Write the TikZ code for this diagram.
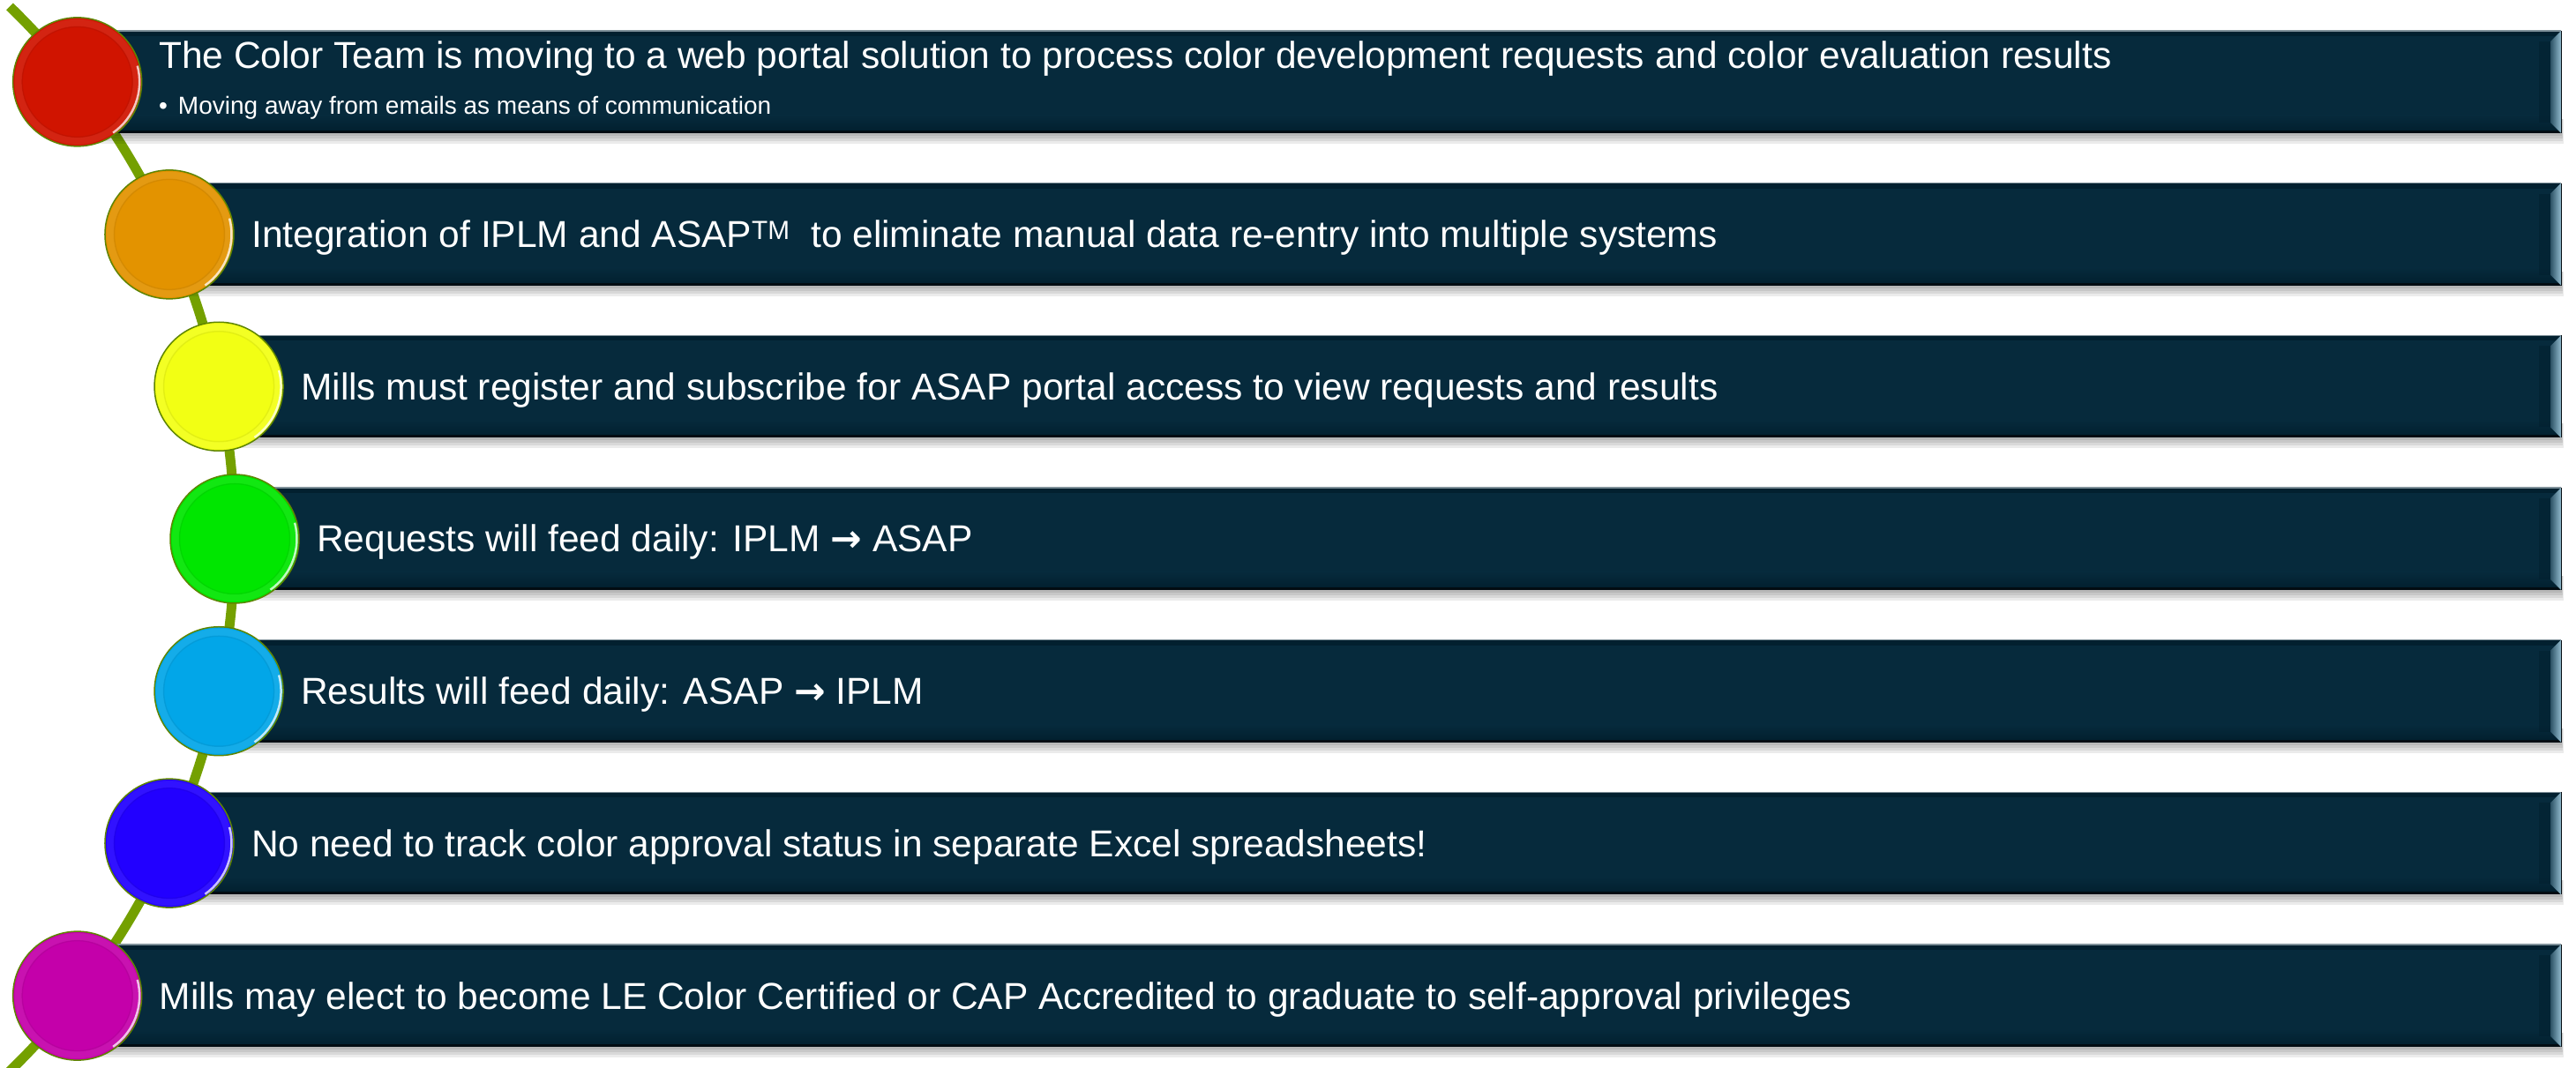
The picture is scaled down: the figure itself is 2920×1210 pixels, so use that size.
\documentclass[tikz,border=0pt]{standalone}
\usepackage{fontspec}
\setmainfont{Liberation Sans}
\newfontfamily\arrowfont{DejaVu Sans}
\usetikzlibrary{calc}
\definecolor{barfill}{HTML}{062A3C}
\definecolor{bardark}{HTML}{02202F}
\definecolor{baredge}{HTML}{7F9099}
\definecolor{pathgreen}{HTML}{74A000}
\definecolor{rimgreen}{HTML}{5E8400}
\definecolor{bevlo}{HTML}{2C5265}
\definecolor{bevhi}{HTML}{92BBCE}
\definecolor{cRed}{HTML}{D01400}
\definecolor{cOrange}{HTML}{E39300}
\definecolor{cYellow}{HTML}{F2FF14}
\definecolor{cGreen}{HTML}{00E600}
\definecolor{cBlue}{HTML}{02A6E8}
\definecolor{cIndigo}{HTML}{2200FF}
\definecolor{cMagenta}{HTML}{C400AA}
\tikzset{
  dot/.style={circle, minimum size=146pt, inner sep=0pt, draw=rimgreen, line width=1.5pt, fill=#1},
  lbl/.style={anchor=base west, inner sep=0pt, text=white, font=\fontsize{42.5}{50}\selectfont},
  sublbl/.style={anchor=base west, inner sep=0pt, text=white, font=\fontsize{28}{34}\selectfont},
  barbody/.style={fill=barfill},
  barshadow/.style={fill=black, opacity=0.08},
}
\begin{document}
\begin{tikzpicture}[x=1pt,y=1pt]
\useasboundingbox (0,0) rectangle (2920,1210);
\fill[white] (0,0) rectangle (2920,1210);
\coordinate (O) at (-576,599);
% the green spine
\begin{scope}
\clip (0,0) rectangle (2920,1210);
\draw[pathgreen, line width=11pt] (O) ++(45.8:842) coordinate (spinetop)
  arc[start angle=45.8, end angle=-47, radius=842];
\end{scope}
% bars
\foreach \i/\ang/\yt in {1/37.98/1175, 2/24.2/1002.3, 3/11.84/829.7, 4/0/657, 5/-11.84/484.3, 6/-24.2/311.7, 7/-37.98/139}{
  \coordinate (k\i) at ($(O)+(\ang:842)$);
  \foreach \s in {3,6,9,12}{
    \fill[barshadow] (k\i |- 0,\yt-100) rectangle (2903+\s/4,\yt-116-\s);
  }
  \fill[barbody] (k\i |- 0,\yt) rectangle (2903,\yt-116);
  \fill[bardark] (k\i |- 0,\yt) rectangle (2903,\yt-6);
  \shade[top color=barfill, bottom color=bardark] (k\i |- 0,\yt-96) rectangle (2903,\yt-113);
  \fill[black!70!barfill] (k\i |- 0,\yt-113) rectangle (2903,\yt-116);
  \draw[baredge, line width=1.2pt] (k\i |- 0,\yt) -- (2903,\yt);
  \fill[bardark, opacity=0.6] (2878,\yt-12) -- (2891,\yt-12) -- (2891,\yt-104) -- (2878,\yt-104) -- cycle;
  \shade[left color=bevlo, right color=bevhi] (2891,\yt-12) -- (2903,\yt) -- (2903,\yt-116) -- (2891,\yt-104) -- cycle;
  \draw[black!70!barfill, line width=1pt] (2903,\yt) -- (2903,\yt-116);
}
% circles
\foreach \i/\col in {1/cRed, 2/cOrange, 3/cYellow, 4/cGreen, 5/cBlue, 6/cIndigo, 7/cMagenta}{
  \node[dot=\col] (c\i) at (k\i) {};
  \draw[\col!88!white, line width=8pt, opacity=0.6] (c\i.center) circle[radius=67];
  \draw[\col!70!black, opacity=0.2, line width=1.5pt] (c\i.center) circle[radius=62.5];
  \draw[white, opacity=0.75, line width=2.5pt] ($(c\i.center)+(-55:70.5)$) arc[start angle=-55, end angle=15, radius=70.5];
}
% texts
\node[lbl] (t1) at (180,1132) {The Color Team is moving to a web portal solution to process color development requests and color evaluation results};
\node[sublbl] (t1b) at (180,1080) {\textbullet\kern 12pt Moving away from emails as means of communication};
\node[lbl] (t2) at ($(k2)+(93,-15)$) {Integration of IPLM and ASAP\textsuperscript{TM}\ \ to eliminate manual data re-entry into multiple systems};
\node[lbl] (t3) at ($(k3)+(93,-15)$) {Mills must register and subscribe for ASAP portal access to view requests and results};
\node[lbl] (t4) at ($(k4)+(93,-15)$) {Requests will feed daily: IPLM {\arrowfont\bfseries →} ASAP};
\node[lbl] (t5) at ($(k5)+(93,-15)$) {Results will feed daily: ASAP {\arrowfont\bfseries →} IPLM};
\node[lbl] (t6) at ($(k6)+(93,-15)$) {No need to track color approval status in separate Excel spreadsheets!};
\node[lbl] (t7) at ($(k7)+(93,-15)$) {Mills may elect to become LE Color Certified or CAP Accredited to graduate to self-approval privileges};
\end{tikzpicture}
\end{document}
